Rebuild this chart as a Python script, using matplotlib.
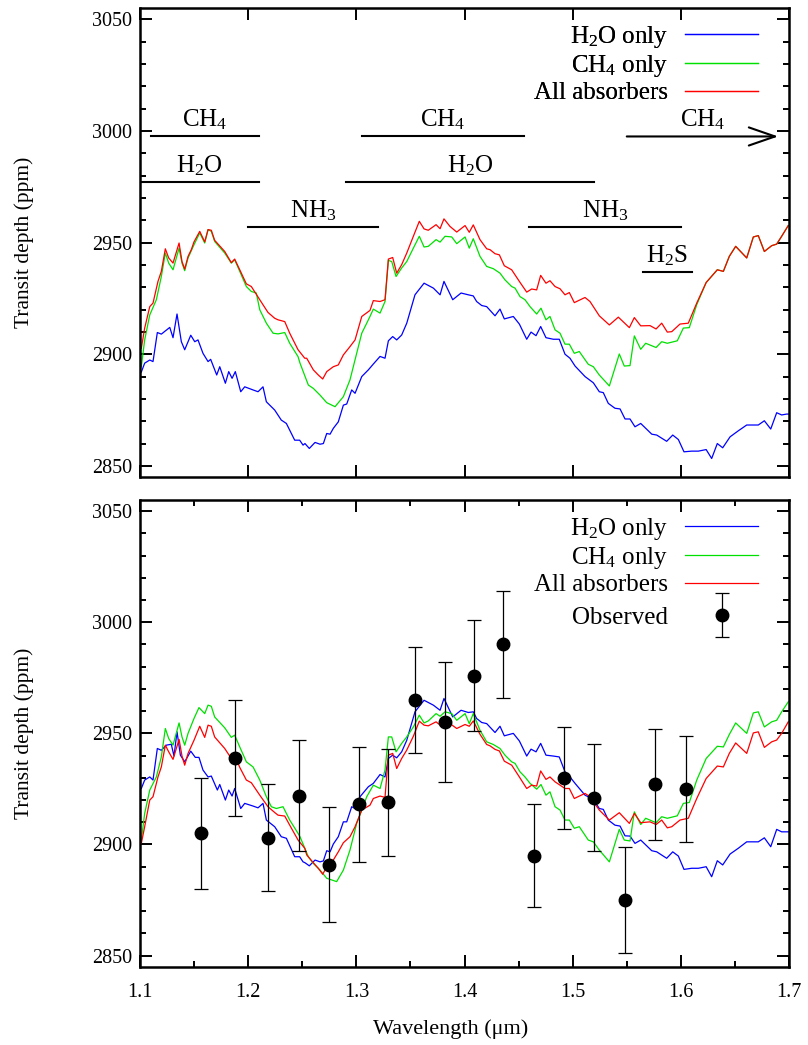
import matplotlib.pyplot as plt
import numpy as np
from matplotlib.ticker import MultipleLocator
from matplotlib.container import ErrorbarContainer
from matplotlib.legend_handler import HandlerErrorbar

plt.rcParams['font.family'] = ['Liberation Serif', 'DejaVu Serif']
plt.rcParams['mathtext.fontset'] = 'custom'
plt.rcParams['mathtext.rm'] = 'Liberation Serif'
plt.rcParams['mathtext.it'] = 'Liberation Serif:italic'
plt.rcParams['font.size'] = 14.5

# ---- top panel: model spectra (wavelength um, transit depth ppm)
top_h2o = [(1.1012, 2892), (1.1043, 2896), (1.1090, 2897.4), (1.1120, 2896.7), (1.1160, 2909.7), (1.1197, 2909),
           (1.1275, 2912), (1.1305, 2907.4), (1.1342, 2918), (1.1382, 2905.6), (1.1413, 2902), (1.1469, 2908.5),
           (1.1506, 2905.6), (1.1536, 2906.4), (1.1582, 2900.4), (1.1629, 2896.7), (1.1653, 2897.7), (1.1709, 2890.7),
           (1.1737, 2894.4), (1.1789, 2887), (1.1820, 2892.2), (1.1851, 2889.2), (1.1881, 2892.2), (1.1931, 2883.2),
           (1.1968, 2885.4), (1.2045, 2884), (1.2091, 2883.2), (1.2137, 2885.4), (1.2168, 2878.7), (1.2245, 2875),
           (1.2306, 2870.5), (1.2353, 2869), (1.2430, 2861.5), (1.2476, 2861.5), (1.2507, 2859.3), (1.2525, 2860),
           (1.2565, 2857.8), (1.2618, 2860.5), (1.2664, 2859.7), (1.2695, 2860), (1.2726, 2864.5), (1.2757, 2864.2),
           (1.2787, 2866.8), (1.2833, 2869.7), (1.2880, 2877.2), (1.2911, 2877.7), (1.2957, 2884), (1.2988, 2882.5),
           (1.3050, 2890), (1.3111, 2893), (1.3157, 2895.6), (1.3219, 2899), (1.3265, 2898.2), (1.3296, 2906),
           (1.3336, 2907.9), (1.3373, 2906.4), (1.3419, 2908.6), (1.3466, 2913.9), (1.3542, 2926.6), (1.3626, 2931.8),
           (1.3712, 2929.6), (1.3774, 2926.6), (1.3810, 2932.6), (1.3891, 2924.4), (1.3968, 2927.4), (1.4035, 2926.6),
           (1.4081, 2926.1), (1.4112, 2923.6), (1.4159, 2921.8), (1.4205, 2921.3), (1.4282, 2917.2), (1.4328, 2920.2),
           (1.4368, 2915.8), (1.4451, 2916.9), (1.4507, 2913.5), (1.4575, 2906.7), (1.4615, 2909.9), (1.4661, 2908.3),
           (1.4704, 2912.4), (1.4753, 2907.4), (1.4821, 2906.7), (1.4876, 2906.7), (1.4929, 2900), (1.4975, 2898.2),
           (1.5022, 2894.7), (1.5114, 2890), (1.5191, 2887.2), (1.5246, 2883.2), (1.5283, 2882.8), (1.5329, 2878),
           (1.5391, 2875.8), (1.5438, 2875.5), (1.5484, 2871), (1.5530, 2871), (1.5576, 2867.5), (1.5629, 2869),
           (1.5731, 2864.2), (1.5777, 2863.8), (1.5869, 2861), (1.5925, 2863.8), (1.5977, 2861.8), (1.6029, 2856.3),
           (1.6100, 2856.6), (1.6162, 2856.6), (1.6234, 2857.3), (1.6285, 2853.3), (1.6337, 2860), (1.6387, 2858.1),
           (1.6455, 2863), (1.6531, 2865.7), (1.6609, 2868.3), (1.6716, 2868.3), (1.6772, 2870.2), (1.6831, 2866.5),
           (1.6886, 2873.8), (1.6932, 2872.8), (1.6979, 2873.2), (1.7000, 2873.2)]

top_ch4 = [(1.1012, 2894.4), (1.1043, 2906.4), (1.1090, 2917.6), (1.1151, 2924.4), (1.1197, 2934.8), (1.1234, 2945.3),
           (1.1265, 2940.8), (1.1305, 2937.8), (1.1361, 2947.5), (1.1388, 2940.8), (1.1413, 2937.4), (1.1444, 2943.1),
           (1.1499, 2949), (1.1552, 2954.3), (1.1598, 2949.8), (1.1629, 2955.8), (1.1659, 2955), (1.1690, 2950.5),
           (1.1783, 2945.3), (1.1844, 2940.8), (1.1875, 2942.3), (1.1922, 2937.1), (1.1983, 2930.3), (1.2029, 2928.1),
           (1.2075, 2927.4), (1.2107, 2919.9), (1.2168, 2913.9), (1.2230, 2909.4), (1.2276, 2909.1), (1.2338, 2909.7),
           (1.2384, 2904.9), (1.2461, 2898.9), (1.2479, 2896), (1.2556, 2886.2), (1.2602, 2884.7), (1.2664, 2881.7),
           (1.2726, 2878.3), (1.2803, 2876.5), (1.2880, 2881), (1.2941, 2888.5), (1.3003, 2900.4), (1.3050, 2909.4),
           (1.3096, 2913.9), (1.3126, 2916.9), (1.3157, 2920.2), (1.3219, 2918.4), (1.3265, 2923.6), (1.3296, 2942),
           (1.3327, 2941.5), (1.3367, 2934.8), (1.3419, 2938.6), (1.3466, 2941.5), (1.3527, 2947.5), (1.3582, 2952.8),
           (1.3626, 2948), (1.3665, 2948.3), (1.3737, 2951.3), (1.3774, 2950.2), (1.3820, 2952.8), (1.3882, 2952.5),
           (1.3928, 2949.5), (1.4005, 2952.5), (1.4044, 2947.5), (1.4081, 2951.7), (1.4143, 2943.8), (1.4205, 2939.3),
           (1.4266, 2938.3), (1.4328, 2936.3), (1.4374, 2933.3), (1.4436, 2930.3), (1.4467, 2929.6), (1.4513, 2925.8),
           (1.4559, 2924.4), (1.4606, 2921.3), (1.4667, 2918), (1.4707, 2920.6), (1.4753, 2915.4), (1.4790, 2916.9),
           (1.4837, 2910.9), (1.4883, 2909.4), (1.4929, 2904.5), (1.4969, 2904.5), (1.5015, 2900.4), (1.5061, 2901.2),
           (1.5144, 2895.5), (1.5191, 2894.4), (1.5246, 2890.7), (1.5339, 2885.8), (1.5431, 2900.1), (1.5477, 2894.7),
           (1.5530, 2894.9), (1.5570, 2908.2), (1.5629, 2902.2), (1.5675, 2904.9), (1.5771, 2903), (1.5823, 2905.6),
           (1.5875, 2904.9), (1.5967, 2906), (1.6023, 2911.7), (1.6078, 2911.9), (1.6147, 2922.2), (1.6234, 2932.1),
           (1.6337, 2937.8), (1.6393, 2937.1), (1.6448, 2943.8), (1.6507, 2948.3), (1.6609, 2943.1), (1.6670, 2952.5),
           (1.6716, 2953.1), (1.6772, 2946), (1.6840, 2948.6), (1.6886, 2949.3), (1.6932, 2952.8), (1.6993, 2957.6)]

top_all = [(1.1012, 2902.7), (1.1043, 2911.7), (1.1090, 2921.3), (1.1120, 2922.9), (1.1166, 2932.6), (1.1197, 2937.1),
           (1.1234, 2947.2), (1.1265, 2943.1), (1.1305, 2940.8), (1.1361, 2949.8), (1.1388, 2941.5), (1.1413, 2938.1),
           (1.1444, 2943.8), (1.1474, 2946.8), (1.1499, 2950.3), (1.1552, 2955), (1.1598, 2950.3), (1.1629, 2955.8),
           (1.1659, 2955.5), (1.1690, 2951), (1.1783, 2946), (1.1844, 2941), (1.1875, 2942.6), (1.1922, 2937.8),
           (1.1983, 2931.5), (1.2029, 2930.3), (1.2107, 2924.4), (1.2183, 2918.7), (1.2245, 2916.1), (1.2276, 2915.4),
           (1.2338, 2914.6), (1.2384, 2909.4), (1.2461, 2902), (1.2523, 2898.2), (1.2541, 2898.2), (1.2602, 2893),
           (1.2648, 2890.7), (1.2689, 2888.9), (1.2726, 2892.2), (1.2787, 2894.4), (1.2833, 2895.2), (1.2880, 2899.7),
           (1.2941, 2903.4), (1.2988, 2906.4), (1.3050, 2916.9), (1.3126, 2919.6), (1.3157, 2924), (1.3219, 2923.6),
           (1.3265, 2924.4), (1.3296, 2942.6), (1.3336, 2943.3), (1.3373, 2936.3), (1.3419, 2940.1), (1.3466, 2945.3),
           (1.3527, 2952.8), (1.3582, 2959.5), (1.3626, 2956.1), (1.3665, 2955.5), (1.3737, 2958), (1.3774, 2956.2),
           (1.3810, 2960.6), (1.3866, 2957.2), (1.3928, 2954.7), (1.4005, 2957.6), (1.4044, 2954.6), (1.4081, 2957.9),
           (1.4143, 2951.3), (1.4205, 2947.2), (1.4236, 2946.8), (1.4282, 2945), (1.4322, 2944.5), (1.4368, 2939.6),
           (1.4436, 2937.8), (1.4507, 2932.6), (1.4575, 2927.8), (1.4621, 2929.2), (1.4667, 2928.8), (1.4704, 2935.3),
           (1.4753, 2931.8), (1.4790, 2932.9), (1.4837, 2930.3), (1.4883, 2929.3), (1.4929, 2926.6), (1.4969, 2927.6),
           (1.5015, 2923.1), (1.5114, 2925.4), (1.5160, 2923.6), (1.5246, 2917.2), (1.5339, 2913.1), (1.5422, 2916.6),
           (1.5524, 2911.9), (1.5570, 2916.4), (1.5629, 2912.7), (1.5715, 2912.8), (1.5771, 2911.3), (1.5823, 2913.9),
           (1.5875, 2909.9), (1.5916, 2910.1), (1.5992, 2913.5), (1.6069, 2913.9), (1.6147, 2922.9), (1.6234, 2932.1),
           (1.6337, 2937.8), (1.6393, 2937.1), (1.6448, 2943.8), (1.6507, 2948.3), (1.6609, 2943.1), (1.6670, 2952.5),
           (1.6716, 2953.1), (1.6772, 2946), (1.6840, 2948.6), (1.6886, 2949.3), (1.6932, 2952.8), (1.6993, 2957.6)]

# ---- bottom panel: same models, different scaling, plus observed points
bot_h2o = [(1.1012, 2925.2), (1.1043, 2929), (1.1090, 2930.4), (1.1120, 2929), (1.1160, 2943.2), (1.1197, 2942.4),
           (1.1243, 2944.7), (1.1289, 2945.1), (1.1314, 2939.8), (1.1342, 2950.7), (1.1373, 2940.2), (1.1413, 2937.2),
           (1.1469, 2942), (1.1511, 2939.2), (1.1545, 2939.2), (1.1582, 2933.5), (1.1629, 2930.4), (1.1659, 2930.8),
           (1.1715, 2924.5), (1.1737, 2927), (1.1789, 2920), (1.1820, 2924.5), (1.1851, 2921.8), (1.1875, 2925.2),
           (1.1931, 2916.2), (1.1968, 2918.5), (1.2045, 2917.3), (1.2091, 2916.5), (1.2137, 2918.5), (1.2168, 2911),
           (1.2245, 2908), (1.2306, 2903.5), (1.2353, 2902.8), (1.2430, 2894.5), (1.2476, 2894.5), (1.2507, 2892.2),
           (1.2525, 2891.8), (1.2565, 2890.4), (1.2618, 2893), (1.2664, 2892.2), (1.2695, 2892.6), (1.2726, 2897.2),
           (1.2757, 2896.7), (1.2787, 2900.2), (1.2833, 2903.5), (1.2880, 2910.2), (1.2911, 2910.2), (1.2957, 2917),
           (1.2988, 2916.2), (1.3034, 2921.5), (1.3111, 2926), (1.3157, 2927.5), (1.3219, 2931.5), (1.3265, 2930.4),
           (1.3296, 2938.7), (1.3336, 2940.2), (1.3373, 2939), (1.3419, 2941.7), (1.3466, 2946.9), (1.3542, 2959.7),
           (1.3626, 2964.9), (1.3712, 2962.7), (1.3774, 2960.4), (1.3810, 2965.7), (1.3891, 2957.4), (1.3968, 2960.4),
           (1.4035, 2959.4), (1.4081, 2959.7), (1.4112, 2956.7), (1.4159, 2954.9), (1.4205, 2954.4), (1.4282, 2950.4),
           (1.4328, 2953.2), (1.4368, 2948.9), (1.4451, 2950), (1.4507, 2946.6), (1.4575, 2939.8), (1.4615, 2942.9),
           (1.4661, 2941.7), (1.4704, 2945.5), (1.4753, 2940.2), (1.4821, 2939.8), (1.4876, 2939.4), (1.4929, 2932.7),
           (1.4975, 2930.4), (1.5022, 2927.5), (1.5114, 2922.2), (1.5191, 2920.3), (1.5246, 2916.2), (1.5283, 2915.8),
           (1.5329, 2911), (1.5391, 2908.7), (1.5438, 2908.3), (1.5484, 2903.9), (1.5530, 2903.8), (1.5576, 2900.5),
           (1.5629, 2902), (1.5731, 2897.2), (1.5777, 2896.7), (1.5869, 2893.8), (1.5925, 2896.7), (1.5977, 2894.8),
           (1.6029, 2888.8), (1.6100, 2889.3), (1.6162, 2889.3), (1.6234, 2890), (1.6285, 2885.5), (1.6337, 2892.7),
           (1.6387, 2890.8), (1.6455, 2895.7), (1.6531, 2898.3), (1.6609, 2901.2), (1.6716, 2901.2), (1.6772, 2903),
           (1.6831, 2899), (1.6886, 2906.8), (1.6932, 2905.7), (1.6979, 2905.7), (1.7000, 2905.7)]

bot_ch4 = [(1.1012, 2902), (1.1043, 2914), (1.1090, 2924.5), (1.1151, 2930.4), (1.1197, 2939.4), (1.1234, 2952.2),
           (1.1265, 2947.7), (1.1305, 2944.7), (1.1361, 2954.7), (1.1388, 2948.4), (1.1413, 2944.7), (1.1444, 2950),
           (1.1499, 2956.7), (1.1545, 2961.6), (1.1598, 2958.9), (1.1629, 2962.7), (1.1659, 2962.2), (1.1690, 2957.4),
           (1.1783, 2952.5), (1.1844, 2948.2), (1.1875, 2949.2), (1.1922, 2943.9), (1.1983, 2937.2), (1.2045, 2934.9),
           (1.2107, 2929), (1.2168, 2921.5), (1.2214, 2917), (1.2260, 2916.2), (1.2322, 2917), (1.2384, 2911),
           (1.2461, 2905), (1.2479, 2903.5), (1.2556, 2894.5), (1.2602, 2891.5), (1.2664, 2888.5), (1.2726, 2884.8),
           (1.2818, 2883.3), (1.2880, 2888.5), (1.2941, 2897.5), (1.3003, 2909.5), (1.3050, 2915.5), (1.3096, 2921.5),
           (1.3157, 2926.7), (1.3219, 2925.2), (1.3265, 2933.5), (1.3296, 2948.4), (1.3327, 2948.4), (1.3367, 2941.7),
           (1.3419, 2945.5), (1.3466, 2948.4), (1.3527, 2952.9), (1.3582, 2958.2), (1.3626, 2954.7), (1.3665, 2955.6),
           (1.3737, 2958.9), (1.3774, 2957.7), (1.3820, 2959.7), (1.3882, 2958.9), (1.3928, 2955.9), (1.4005, 2958.9),
           (1.4044, 2954.4), (1.4081, 2958.9), (1.4143, 2951.4), (1.4205, 2946.2), (1.4266, 2945), (1.4328, 2943.2),
           (1.4374, 2940.2), (1.4436, 2937.2), (1.4467, 2936.5), (1.4513, 2932.7), (1.4559, 2930.4), (1.4606, 2927.5),
           (1.4667, 2924.9), (1.4707, 2927), (1.4753, 2922.2), (1.4790, 2923.7), (1.4837, 2917), (1.4883, 2915.5),
           (1.4929, 2911), (1.4969, 2911), (1.5015, 2907.3), (1.5061, 2908), (1.5144, 2902), (1.5191, 2901.2),
           (1.5246, 2897.5), (1.5339, 2892.2), (1.5431, 2906.8), (1.5477, 2902), (1.5530, 2901.6), (1.5570, 2914.7),
           (1.5629, 2909), (1.5675, 2911.8), (1.5771, 2909.8), (1.5823, 2912.5), (1.5875, 2911.8), (1.5967, 2912.9),
           (1.6023, 2918.5), (1.6078, 2918.9), (1.6147, 2929), (1.6234, 2938.7), (1.6337, 2944.2), (1.6393, 2943.9),
           (1.6448, 2949.5), (1.6507, 2954.7), (1.6609, 2950), (1.6670, 2959.2), (1.6716, 2959.7), (1.6772, 2952.9),
           (1.6840, 2955.2), (1.6886, 2955.9), (1.6932, 2959.7), (1.6993, 2964.2)]

bot_all = [(1.1012, 2900.5), (1.1043, 2908), (1.1090, 2920), (1.1120, 2921.5), (1.1166, 2930.4), (1.1197, 2934.9),
           (1.1234, 2944.7), (1.1265, 2941.7), (1.1305, 2938.3), (1.1361, 2947.3), (1.1388, 2939.8), (1.1413, 2935.7),
           (1.1444, 2941), (1.1499, 2946.9), (1.1552, 2953.2), (1.1598, 2948.2), (1.1629, 2953.7), (1.1659, 2953.2),
           (1.1690, 2948.4), (1.1783, 2943.2), (1.1844, 2938.7), (1.1875, 2940.2), (1.1922, 2934.7), (1.1983, 2929),
           (1.2029, 2927.8), (1.2107, 2922.2), (1.2183, 2917), (1.2245, 2914.4), (1.2276, 2913.2), (1.2338, 2912.8),
           (1.2384, 2908.7), (1.2461, 2902), (1.2523, 2898.3), (1.2541, 2895.3), (1.2602, 2891.8), (1.2648, 2889.3),
           (1.2689, 2886.6), (1.2726, 2890), (1.2787, 2893), (1.2833, 2896.7), (1.2880, 2900.8), (1.2941, 2903.5),
           (1.2988, 2908), (1.3050, 2915.5), (1.3126, 2917.7), (1.3157, 2920.7), (1.3219, 2921.8), (1.3265, 2921.2),
           (1.3296, 2940.2), (1.3336, 2941), (1.3373, 2934.2), (1.3419, 2938.7), (1.3466, 2942.5), (1.3527, 2948.7),
           (1.3582, 2955.5), (1.3626, 2953.7), (1.3665, 2953.4), (1.3737, 2955.2), (1.3774, 2953.7), (1.3810, 2956.7),
           (1.3866, 2954.4), (1.3928, 2952.2), (1.4005, 2954), (1.4044, 2953.2), (1.4081, 2955.6), (1.4143, 2949.6),
           (1.4205, 2945), (1.4236, 2944.4), (1.4282, 2942.8), (1.4322, 2942.1), (1.4368, 2937.5), (1.4436, 2935.7),
           (1.4507, 2930.4), (1.4575, 2925.2), (1.4621, 2926.7), (1.4667, 2926.3), (1.4704, 2933.1), (1.4753, 2929.3),
           (1.4790, 2930.4), (1.4837, 2928.2), (1.4883, 2926.7), (1.4929, 2925.2), (1.4969, 2925.2), (1.5015, 2920.7),
           (1.5114, 2923), (1.5160, 2921.5), (1.5246, 2915.5), (1.5339, 2911), (1.5431, 2914.3), (1.5524, 2909.5),
           (1.5570, 2914), (1.5629, 2909.8), (1.5715, 2910.2), (1.5771, 2909), (1.5823, 2911), (1.5875, 2907.5),
           (1.5916, 2908), (1.5992, 2911), (1.6069, 2911.8), (1.6147, 2920.7), (1.6234, 2929.7), (1.6337, 2935.3),
           (1.6393, 2934.9), (1.6448, 2941), (1.6507, 2945.7), (1.6609, 2941), (1.6670, 2950.2), (1.6716, 2950.7),
           (1.6772, 2943.7), (1.6840, 2946.2), (1.6886, 2947), (1.6932, 2950), (1.6993, 2955.2)]

obs_wl = [1.156, 1.188, 1.218, 1.247, 1.275, 1.302, 1.329, 1.354, 1.382,
          1.409, 1.436, 1.464, 1.492, 1.520, 1.548, 1.576, 1.605]
obs_depth = [2905, 2939, 2903, 2922, 2891, 2918, 2919, 2965, 2955,
             2976, 2990, 2895, 2930, 2921, 2875, 2927, 2925]
obs_err = [25, 26, 24, 25, 26, 26, 24, 24, 27, 25, 24, 23, 23, 24, 24, 25, 24]

# absorber bands marked in the top panel: label, start, end, level
bands = [('CH$_\\mathrm{4}$', 1.11, 1.21, 2997.5),
         ('H$_\\mathrm{2}$O', 1.10, 1.21, 2977),
         ('NH$_\\mathrm{3}$', 1.20, 1.32, 2957),
         ('CH$_\\mathrm{4}$', 1.305, 1.455, 2997.5),
         ('H$_\\mathrm{2}$O', 1.29, 1.52, 2977),
         ('NH$_\\mathrm{3}$', 1.46, 1.60, 2957),
         ('H$_\\mathrm{2}$S', 1.565, 1.61, 2937)]
arrow_band = ('CH$_\\mathrm{4}$', 1.55, 1.69, 2997.5)

labels = ['H$_\\mathrm{2}$O only', 'CH$_\\mathrm{4}$ only', 'All absorbers']
colors = ['#0000ff', '#00e000', '#ff0000']

big = 18
leg_kw = dict(loc='upper right', borderaxespad=0, borderpad=0, frameon=False, markerfirst=False,
              handlelength=2.9, handletextpad=0.7, labelspacing=0.12, fontsize=big)

fig = plt.figure(figsize=(8.08, 10.45), dpi=100)
ax1 = fig.add_axes([0.1733, 0.5435, 0.8032, 0.4488])
ax2 = fig.add_axes([0.1733, 0.0749, 0.8032, 0.4466])

for ax, series in ((ax1, (top_h2o, top_ch4, top_all)), (ax2, (bot_h2o, bot_ch4, bot_all))):
    lines = []
    for s, lab, c in zip(series, labels, colors):
        wl, d = np.array(s).T
        lines += ax.plot(wl, d, color=c, lw=0.9, label=lab)
    leg = ax.legend(handles=lines, bbox_to_anchor=(0.952, 0.966), **leg_kw)
    ax.add_artist(leg)

obs = ax2.errorbar(obs_wl, obs_depth, yerr=obs_err, fmt='o', color='black', ms=9,
                   ecolor='black', elinewidth=0.9, capsize=4.7, capthick=0.9, label='Observed')
ax2.legend(handles=[obs], bbox_to_anchor=(0.952, 0.772),
           handler_map={ErrorbarContainer: HandlerErrorbar(yerr_size=0.88)}, **leg_kw)

# band markers
for lab, x0, x1, y in bands:
    ax1.plot([x0, x1], [y, y], color='black', lw=1.5)
    ax1.text((x0 + x1) / 2, y + 4.3, lab, ha='center', va='baseline', fontsize=big)
lab, x0, x1, y = arrow_band
ax1.annotate('', xy=(x1, y), xytext=(x0, y),
             arrowprops=dict(arrowstyle='->,head_length=1.3,head_width=0.45',
                             lw=1.5, color='black', shrinkA=0, shrinkB=0))
ax1.text((x0 + x1) / 2, y + 4.3, lab, ha='center', va='baseline', fontsize=big)

for ax in (ax1, ax2):
    ax.set_xlim(1.1, 1.7)
    ax.set_ylim(2845, 3055)
    ax.xaxis.set_major_locator(MultipleLocator(0.1))
    ax.yaxis.set_major_locator(MultipleLocator(50))
    ax.yaxis.set_minor_locator(MultipleLocator(10))
    ax.tick_params(which='both', direction='in', top=True, right=True, width=1.4)
    ax.tick_params(which='major', length=8.5, pad=5.5)
    ax.tick_params(which='minor', length=4.3)
    for sp in ax.spines.values():
        sp.set_linewidth(1.8)
    ax.set_ylabel('Transit depth (ppm)', fontsize=15.5)
    ax.yaxis.set_label_coords(-0.163, 0.5)

ax1.tick_params(labelbottom=False)
ax2.xaxis.set_minor_locator(MultipleLocator(0.05))
ax2.tick_params(axis='x', pad=12)
ax2.set_xlabel('Wavelength (μm)', fontsize=16)
ax2.xaxis.set_label_coords(0.478, -0.112)

fig.savefig('out.png', dpi=100)
